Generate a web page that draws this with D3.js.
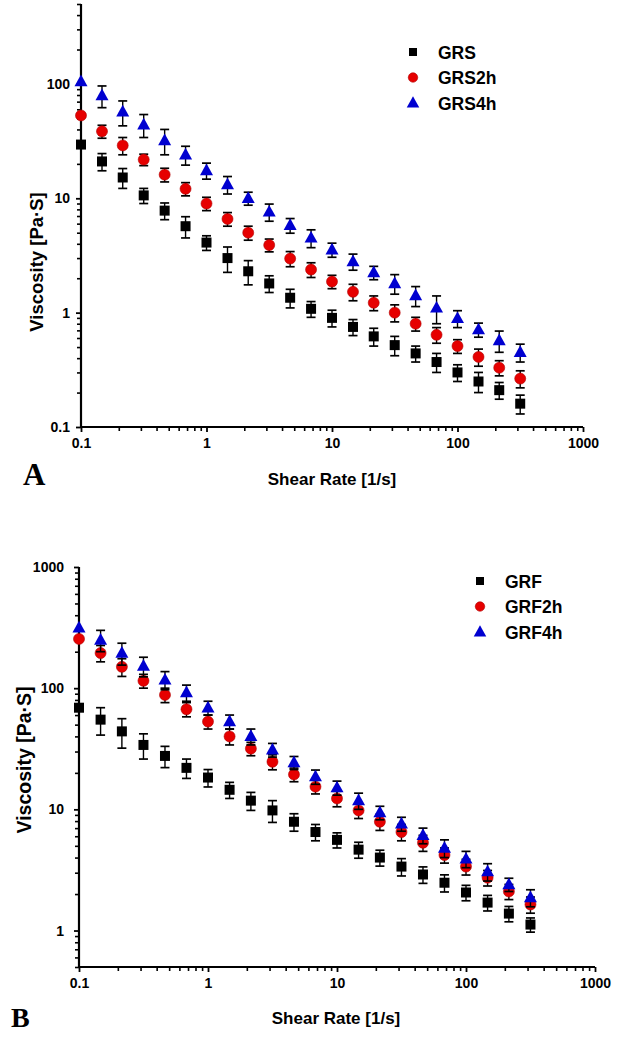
<!DOCTYPE html>
<html><head><meta charset="utf-8">
<script src="https://cdn.jsdelivr.net/npm/d3@7"></script>
<style>
html,body{margin:0;padding:0;background:#fff;}
text{font-family:"Liberation Sans",Arial,sans-serif;font-weight:bold;fill:#000;}
</style></head>
<body>
<svg id="chart" width="622" height="1037"></svg>
<script>
// ---------- DATA ----------
const shearRate = [0.1,0.147,0.215,0.316,0.464,0.681,1,1.47,2.15,3.16,4.64,6.81,10,14.7,21.5,31.6,46.4,68.1,100,147,215,316];

// Panel A
const seriesNamesA = ["GRS","GRS2h","GRS4h"];
const grsVisc   = [29.5,21,15.2,10.6,7.8,5.7,4.1,3.0,2.3,1.8,1.35,1.08,0.90,0.75,0.62,0.52,0.44,0.37,0.30,0.25,0.21,0.16];
const grsErr    = [3.5,3.6,3.0,1.6,1.3,1.2,0.6,0.75,0.55,0.3,0.25,0.17,0.15,0.12,0.11,0.1,0.07,0.07,0.05,0.05,0.035,0.03];
const grs2hVisc = [53,38.5,29,21.8,16.1,12.1,9.0,6.6,5.0,3.9,2.97,2.38,1.87,1.52,1.22,1.0,0.80,0.64,0.51,0.41,0.33,0.265];
const grs2hErr  = [6,5,5,2.5,2.2,1.6,1.2,0.9,0.7,0.5,0.45,0.35,0.25,0.25,0.18,0.17,0.11,0.1,0.07,0.07,0.05,0.045];
const grs4hVisc = [105,79,57,44,32,24,17.5,13.2,10,7.6,5.8,4.5,3.55,2.8,2.24,1.8,1.41,1.1,0.89,0.71,0.57,0.45];
const grs4hErr  = [12,17,14,10,8,4.5,2.8,2.3,1.3,1.3,0.85,0.8,0.5,0.45,0.3,0.35,0.28,0.3,0.15,0.1,0.12,0.08];

// Panel B
const seriesNamesB = ["GRF","GRF2h","GRF4h"];
const grfVisc   = [69,55,44,34,27.6,22,18.3,14.5,11.8,9.8,7.9,6.5,5.6,4.65,4.0,3.37,2.9,2.48,2.06,1.7,1.38,1.12];
const grfErr    = [8,14,12,8,5.5,4,3,2.2,2,2,1.3,1,0.8,0.7,0.6,0.55,0.45,0.4,0.3,0.25,0.2,0.15];
const grf2hVisc = [255,195,150,115,88,67,53,40,31.7,24.7,19.4,15.4,12.3,9.8,7.9,6.5,5.3,4.2,3.37,2.73,2.1,1.64];
const grf2hErr  = [25,30,25,15,12,9,7,6,4,3.5,2.5,2,1.8,1.4,1.2,1,0.8,0.6,0.5,0.4,0.3,0.25];
const grf4hVisc = [315,250,195,152,117,92,69,53,40,31,24.3,18.6,15.1,11.8,9.4,7.6,6.1,4.8,3.9,3.06,2.4,1.87];
const grf4hErr  = [30,50,40,28,20,14,9,7,6,4,3,2.5,2,1.8,1.2,1.0,0.9,0.8,0.6,0.5,0.3,0.3];

const xTickValues = [0.1,1,10,100,1000];
const xTickLabels = ["0.1","1","10","100","1000"];
const yTickValuesA = [0.1,1,10,100];
const yTickLabelsA = ["0.1","1","10","100"];
const yTickValuesB = [1,10,100,1000];
const yTickLabelsB = ["1","10","100","1000"];

const xTitle = "Shear Rate [1/s]";
const yTitle = "Viscosity [Pa·S]";

// ---------- STYLE ----------
const colors = ["#000000","#e60000","#0000d0"];
const shapes = ["square","circle","triangle"];

const svg = d3.select("#chart");

function minorTicks(domain){
  const out=[];
  const lo=Math.floor(Math.log10(domain[0])), hi=Math.ceil(Math.log10(domain[1]));
  for(let d=lo; d<=hi; d++){
    for(let k=2;k<=9;k++){
      const v=k*Math.pow(10,d);
      if(v>=domain[0]*0.9999 && v<=domain[1]*1.0001) out.push(v);
    }
  }
  return out;
}

function marker(g, shape, color, cx, cy, s){
  if(shape==="square"){
    g.append("rect").attr("x",cx-s/2).attr("y",cy-s/2).attr("width",s).attr("height",s).attr("fill",color);
  } else if(shape==="circle"){
    g.append("circle").attr("cx",cx).attr("cy",cy).attr("r",s/2).attr("fill",color)
      .attr("stroke","#b00000").attr("stroke-width",0.6);
  } else {
    const h=s*0.9, w=s;
    g.append("path").attr("d",`M${cx},${cy-h*0.6}L${cx+w/2},${cy+h*0.4}L${cx-w/2},${cy+h*0.4}Z`).attr("fill",color);
  }
}

function drawPanel(cfg){
  const x = d3.scaleLog().domain([0.1,1000]).range([cfg.x0,cfg.x1]);
  const y = d3.scaleLog().domain(cfg.yDomain).range([cfg.yBottom,cfg.yTop]);
  const g = svg.append("g");

  // x axis
  const xAxis = d3.axisBottom(x).tickValues(xTickValues).tickSize(5).tickPadding(6)
      .tickFormat((d,i)=>xTickLabels[i]);
  const gx = g.append("g").attr("transform",`translate(0,${cfg.yBottom})`).call(xAxis);
  gx.attr("font-family",null).attr("font-size",null);
  gx.select(".domain").attr("d",`M${cfg.x0},0H${cfg.x1}`).attr("stroke","#000").attr("stroke-width",2.2);
  gx.selectAll(".tick line").attr("stroke-width",1.8);
  gx.selectAll(".tick text").style("font-size","14px").style("font-weight","bold");
  const xMinor = d3.axisBottom(x).tickValues(minorTicks([0.1,1000])).tickSize(4).tickFormat("");
  const gxm = g.append("g").attr("transform",`translate(0,${cfg.yBottom})`).call(xMinor);
  gxm.select(".domain").remove();
  gxm.selectAll(".tick line").attr("stroke-width",1.6);

  // y axis
  const yAxis = d3.axisLeft(y).tickValues(cfg.yTicks).tickSize(5).tickPadding(cfg.yPad)
      .tickFormat((d,i)=>cfg.yLabels[i]);
  const gy = g.append("g").attr("transform",`translate(${cfg.x0},0)`).call(yAxis);
  gy.attr("font-family",null).attr("font-size",null);
  gy.select(".domain").attr("d",`M0,${cfg.yTop}V${cfg.yBottom}`).attr("stroke","#000").attr("stroke-width",2.2);
  gy.selectAll(".tick line").attr("stroke-width",1.8);
  gy.selectAll(".tick text").style("font-size","14px").style("font-weight","bold");
  const yMinor = d3.axisLeft(y).tickValues(minorTicks(cfg.yDomain)).tickSize(4).tickFormat("");
  const gym = g.append("g").attr("transform",`translate(${cfg.x0},0)`).call(yMinor);
  gym.select(".domain").remove();
  gym.selectAll(".tick line").attr("stroke-width",1.6);

  // series
  cfg.series.forEach((s,si)=>{
    const sg = g.append("g");
    shearRate.forEach((xv,i)=>{
      const v=s.values[i], e=s.err[i];
      const px=x(xv), pyT=y(v+e), pyB=y(Math.max(v-e, cfg.yDomain[0]*1.0001));
      if(i>0){
        sg.append("line").attr("x1",px).attr("x2",px).attr("y1",pyT).attr("y2",pyB).attr("stroke","#000").attr("stroke-width",1.4);
        sg.append("line").attr("x1",px-4.5).attr("x2",px+4.5).attr("y1",pyT).attr("y2",pyT).attr("stroke","#000").attr("stroke-width",1.7);
        sg.append("line").attr("x1",px-4.5).attr("x2",px+4.5).attr("y1",pyB).attr("y2",pyB).attr("stroke","#000").attr("stroke-width",1.7);
      }
    });
    shearRate.forEach((xv,i)=>{
      marker(sg, shapes[si], colors[si], x(xv), y(s.values[i]), shapes[si]==="square"?10:(shapes[si]==="circle"?11:13));
    });
  });

  // legend
  cfg.series.forEach((s,si)=>{
    const ly = cfg.legY + si*25.5;
    marker(g, shapes[si], colors[si], cfg.legX, ly, shapes[si]==="square"?8:(shapes[si]==="circle"?9.5:12.5));
    g.append("text").attr("x",cfg.legX+25).attr("y",ly+6.5).style("font-size","17.5px").text(s.name);
  });

  // titles
  g.append("text").attr("x",cfg.xTitleX).attr("y",cfg.xTitleY).attr("text-anchor","middle").style("font-size","17px")
    .attr("dominant-baseline","middle").text(xTitle);
  g.append("text").attr("transform",`translate(${cfg.yTitleX},${cfg.yTitleY}) rotate(-90)`).attr("text-anchor","middle")
    .attr("dominant-baseline","middle").style("font-size",cfg.yTitleSize+"px").text(yTitle);
  g.append("text").attr("x",cfg.panelX).attr("y",cfg.panelY)
    .style("font-size",cfg.panelSize+"px").style("font-weight","bold")
    .style("font-family","'Liberation Serif','DejaVu Serif',serif").text(cfg.panel);
}

drawPanel({
  x0:81, x1:583, yTop:4, yBottom:427, yDomain:[0.1,500], yTicks:yTickValuesA, yLabels:yTickLabelsA, yPad:6,
  series:[
    {name:seriesNamesA[0], values:grsVisc, err:grsErr},
    {name:seriesNamesA[1], values:grs2hVisc, err:grs2hErr},
    {name:seriesNamesA[2], values:grs4hVisc, err:grs4hErr}
  ],
  legX:413, legY:52,
  xTitleX:332, xTitleY:481, yTitleX:38, yTitleY:262, yTitleSize:18.5,
  panel:"A", panelX:23, panelY:485, panelSize:31
});

drawPanel({
  x0:79, x1:595, yTop:567, yBottom:967, yDomain:[0.5,1000], yTicks:yTickValuesB, yLabels:yTickLabelsB, yPad:10,
  series:[
    {name:seriesNamesB[0], values:grfVisc, err:grfErr},
    {name:seriesNamesB[1], values:grf2hVisc, err:grf2hErr},
    {name:seriesNamesB[2], values:grf4hVisc, err:grf4hErr}
  ],
  legX:480, legY:581,
  xTitleX:336, xTitleY:1020, yTitleX:26, yTitleY:760, yTitleSize:19.5,
  panel:"B", panelX:11, panelY:1027, panelSize:28
});
</script>
</body></html>
